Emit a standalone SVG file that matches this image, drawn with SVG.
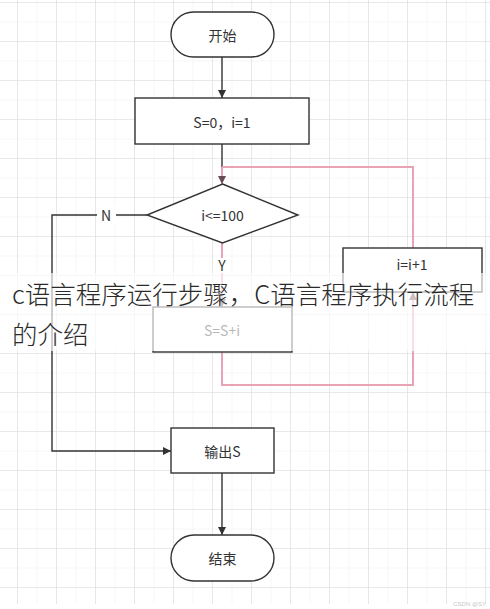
<svg xmlns="http://www.w3.org/2000/svg" width="490" height="609" viewBox="0 0 490 609">
<defs>
<pattern id="minor" x="-1.5" y="-16.5" width="19.5" height="19.5" patternUnits="userSpaceOnUse">
<path d="M19.5 0V19.5M0 19.5H19.5" fill="none" stroke="#f0eff0" stroke-width="1"/>
</pattern>
<pattern id="major" x="-21" y="-36" width="39" height="39" patternUnits="userSpaceOnUse">
<path d="M39 0V39M0 39H39" fill="none" stroke="#dedcde" stroke-width="1.2"/>
</pattern>
<marker id="ah" viewBox="0 0 10 10" refX="10" refY="5" markerWidth="8" markerHeight="8" markerUnits="userSpaceOnUse" orient="auto">
<path d="M0 0L10 5L0 10z" fill="#333"/>
</marker>
<marker id="ahp" viewBox="0 0 10 10" refX="10" refY="5" markerWidth="8" markerHeight="8" markerUnits="userSpaceOnUse" orient="auto">
<path d="M0 0L10 5L0 10z" fill="#6a4a52"/>
</marker>
</defs>
<style>
.node{fill:#fff;stroke:#333;stroke-width:1.4}
.lbl{font-family:"Microsoft YaHei","Noto Sans CJK SC","Noto Sans",sans-serif;font-size:14px;fill:#333;text-anchor:middle;dominant-baseline:central}
.ln{fill:none;stroke:#333;stroke-width:1.4}
.pk{fill:none;stroke:#e8a4b4;stroke-width:2}
.big{font-family:"Noto Sans CJK SC","Noto Sans",sans-serif;font-size:25.5px;font-weight:300;fill:#2a2a2a}
</style>
<rect width="490" height="609" fill="#fff"/>
<rect x="0" y="0" width="490" height="604" fill="url(#minor)"/>
<rect x="0" y="0" width="490" height="604" fill="url(#major)"/>

<g id="connectors">
<path class="ln" d="M222 57V98" marker-end="url(#ah)"/>
<path class="ln" d="M222 144V167"/>
<path class="pk" d="M222 167V184" marker-end="url(#ahp)"/>
<path class="pk" d="M222 167H413V248"/>
<path class="pk" d="M222 352V385H413V292" marker-end="url(#ahp)"/>
<path class="pk" d="M222 243V307" marker-end="url(#ahp)"/>
<path class="ln" d="M147 215H52V451H171" marker-end="url(#ah)"/>
<path class="ln" d="M222 473V535" marker-end="url(#ah)"/>
<rect x="97" y="206" width="19" height="18" fill="#fff"/>
<text class="lbl" x="106" y="215" font-size="13">N</text>
<rect x="215" y="258" width="14" height="15" fill="#fff"/>
<text class="lbl" x="222" y="265" font-size="12">Y</text>
</g>

<g id="start">
<rect class="node" x="171" y="12" width="103" height="45" rx="22.5"/>
<text class="lbl" x="222.5" y="35">开始</text>
</g>
<g id="init">
<rect class="node" x="135" y="98" width="174" height="46"/>
<text class="lbl" x="222" y="122">S=0，i=1</text>
</g>
<g id="cond">
<polygon class="node" points="222.5,184 298,215 222.5,243 147,215"/>
<text class="lbl" x="222.5" y="215">i&lt;=100</text>
</g>
<g id="inc">
<rect class="node" x="343" y="248" width="139" height="44"/>
<text class="lbl" x="412" y="264" font-size="12" fill="#666">i=i+1</text>
</g>
<g id="sum">
<rect class="node" x="153" y="307" width="139" height="45"/>
<text class="lbl" x="222" y="330">S=S+i</text>
</g>
<g id="output">
<rect class="node" x="171" y="428" width="103" height="45"/>
<text class="lbl" x="222.5" y="451">输出S</text>
</g>
<g id="end">
<rect class="node" x="171" y="535" width="103" height="46" rx="23"/>
<text class="lbl" x="222.5" y="558">结束</text>
</g>

<rect x="0" y="273" width="490" height="78" fill="#fff" fill-opacity="0.65"/>
<text class="big" x="12" y="304">c语言程序运行步骤，C语言程序执行流程</text>
<text class="big" x="12" y="344">的介绍</text>
<text x="486" y="606" font-family="Liberation Sans,sans-serif" font-size="6" fill="#c8c8c8" text-anchor="end">CSDN @SY</text>
</svg>
